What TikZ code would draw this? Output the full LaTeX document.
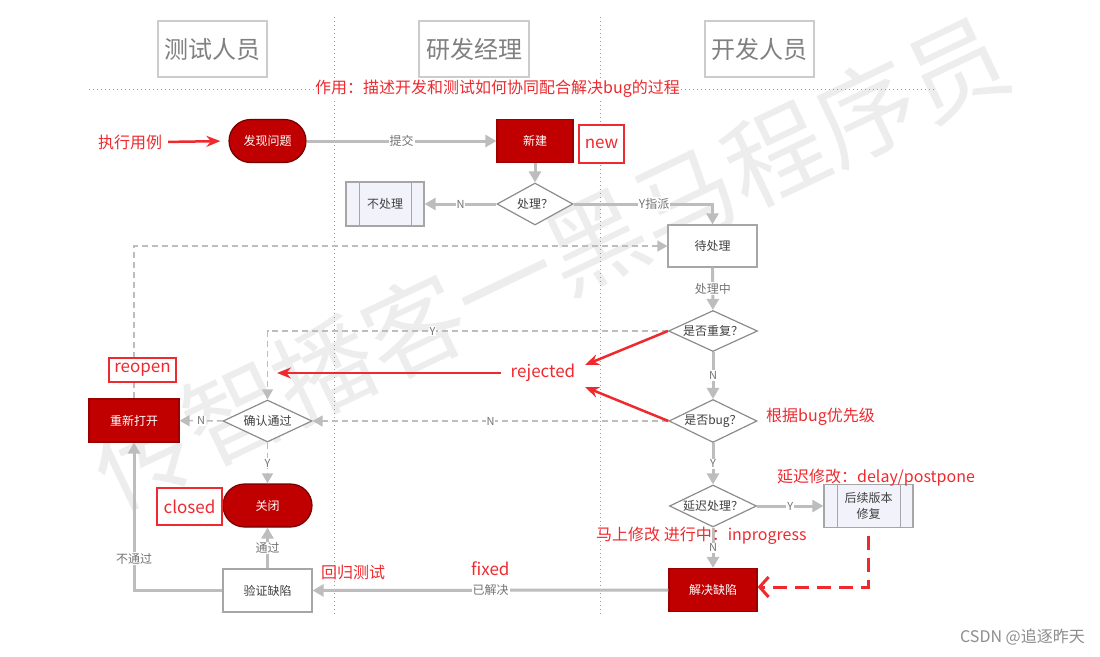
\documentclass[tikz,border=0pt]{standalone}
\usepackage{fontspec}
\setmainfont{Noto Sans CJK SC}
\usetikzlibrary{arrows.meta,shapes.geometric}
\definecolor{dred}{HTML}{C00000}
\definecolor{ared}{HTML}{EE2A2F}
\definecolor{lgray}{HTML}{BDBDBD}
\definecolor{subfill}{HTML}{F1F2FA}
\newcommand\myfs[1]{\fontsize{#1}{#1}\selectfont}
\begin{document}
\begin{tikzpicture}[x=1pt,y=-1pt,
  wm/.style={rotate=25.5, text=black!7, font=\myfs{100}, inner sep=0pt},
  lanehead/.style={draw=black!20, line width=1.5pt, fill=white, text=black!50, font=\myfs{24}, minimum width=110pt, minimum height=56pt, inner sep=0pt},
  box/.style={draw=black!35, line width=1.2pt, fill=white, text=black!75, font=\myfs{12}, minimum width=89pt, minimum height=43pt, inner sep=0pt},
  redbox/.style={box, fill=dred, draw=dred!80!black, text=white},
  term/.style={redbox, rounded corners=21.5pt, draw=dred!60!black},
  dec/.style={diamond, shape aspect=2.4, draw=black!45, line width=1.2pt, fill=white, text=black!75, font=\myfs{12}, inner sep=0pt, minimum width=89pt, minimum height=42pt},
  subp/.style={box, fill=subfill},
  conn/.style={draw=lgray, line width=3pt, -{Triangle[length=11pt,width=12pt]}},
  dconn/.style={draw=lgray, line width=1.5pt, dash pattern=on 6pt off 4pt, -{Triangle[length=10pt,width=11pt]}},
  lbl/.style={fill=white, inner sep=1pt, text=black!55, font=\myfs{12}},
  yn/.style={lbl, font=\myfs{11}},
  ann/.style={text=ared, font=\myfs{16}, inner sep=0pt},
  annlat/.style={text=ared, font=\myfs{17}, inner sep=0pt},
  annbox/.style={draw=ared, line width=1.5pt, fill=white, text=ared, font=\myfs{17}, inner sep=0pt},
  rarrow/.style={draw=ared, line width=2.5pt, -{Stealth[length=14pt,width=11pt]}},
  rdash/.style={draw=ared, line width=3pt, dash pattern=on 14pt off 8pt, -{Straight Barb[length=9pt,width=20pt]}},
  lane/.style={draw=black!40, line width=1pt, dash pattern=on 1pt off 3pt},
  boxline/.style={draw=black!35, line width=1.2pt}
]
\useasboundingbox (0,0) rectangle (1100,656);

% watermark
\node[wm] (wm) at (550,262) {传智播客一黑马程序员};

% lanes
\draw[lane] (334,17) -- (334,614);
\draw[lane] (600,17) -- (600,614);
\draw[lane] (89,89) -- (934,89);
\node[lanehead, minimum width=109pt] (h1) at (212.5,49) {测试人员};
\node[lanehead] (h2) at (474,49) {研发经理};
\node[lanehead, minimum width=109pt] (h3) at (759.5,49) {开发人员};
\node[ann, fill=white] (purpose) at (497.5,89) {作用：描述开发和测试如何协同配合解决bug的过程};

% nodes
\node[ann] (exec) at (130,142) {执行用例};
\node[term, minimum width=77pt] (find) at (267.5,141) {发现问题};
\node[redbox, minimum width=76pt] (xinjian) at (535,141) {新建};
\node[annbox, minimum width=45pt, minimum height=38pt] (newb) at (601.5,144) {new};
\node[dec, minimum width=76pt] (proc) at (535,204) {处理？};
\node[subp, minimum width=78pt, minimum height=44pt] (bucl) at (385,204) {不处理};
\node[box, minimum height=42pt] (daichuli) at (712.5,246) {待处理};
\node[dec, minimum height=41pt] (chongfu) at (713,331) {是否重复？};
\node[dec, minimum width=88pt, minimum height=43pt] (isbug) at (713,421) {是否bug？};
\node[dec, minimum width=87pt] (yanchi) at (713,506) {延迟处理？};
\node[subp, align=center, font=\fontsize{12}{16}\selectfont] (houxu) at (868.5,506) {后续版本\\修复};
\node[redbox, minimum width=88pt] (jiejue) at (713,590) {解决缺陷};
\node[box] (yanzheng) at (267.5,590.5) {验证缺陷};
\node[term, minimum width=89pt] (guanbi) at (267.5,505.5) {关闭};
\node[dec, minimum height=42pt] (queren) at (267.5,421) {确认通过};
\node[redbox, minimum width=90pt] (chongxin) at (134,420.5) {重新打开};

% sub-process inner lines
\draw[boxline] ([xshift=14pt]bucl.north west) -- ([xshift=14pt]bucl.south west);
\draw[boxline] ([xshift=-13pt]bucl.north east) -- ([xshift=-13pt]bucl.south east);
\draw[boxline] ([xshift=14pt]houxu.north west) -- ([xshift=14pt]houxu.south west);
\draw[boxline] ([xshift=-13pt]houxu.north east) -- ([xshift=-13pt]houxu.south east);

% solid connectors
\draw[conn] (find) -- node[lbl] {提交} (xinjian);
\draw[conn] (xinjian) -- (proc);
\draw[conn] (proc) -- node[yn] {N} (bucl);
\draw[conn] (proc.east) -| node[lbl, pos=0.29] {Y指派} (daichuli.north);
\draw[conn] (daichuli) -- node[lbl] {处理中} (chongfu);
\draw[conn] (chongfu) -- node[yn] {N} (isbug);
\draw[conn] (isbug) -- node[yn] {Y} (yanchi);
\draw[conn] (yanchi) -- node[yn] {Y} (houxu);
\draw[conn] (yanchi) -- node[yn] {N} (jiejue);
\draw[conn] (jiejue) -- node[lbl] {已解决} (yanzheng);
\draw[conn] (yanzheng) -- node[lbl] {通过} (guanbi);
\draw[conn] (yanzheng.west) -| node[lbl, pos=0.607] {不通过} (chongxin.south);

% dashed connectors
\draw[dconn] (chongxin.north) |- (daichuli.west);
\draw[dconn] (chongfu.west) -| node[yn, pos=0.294] {Y} (queren.north);
\draw[dconn] (isbug) -- node[yn] {N} (queren);
\draw[dconn] (queren) -- node[yn] {N} (chongxin);
\draw[dconn] (queren) -- node[yn] {Y} (guanbi);

% annotations
\node[annbox, minimum width=67pt, minimum height=24pt] (reopen) at (142.5,370) {reopen};
\node[annbox, minimum width=65pt, minimum height=37pt] (closed) at (189.5,506.5) {closed};
\node[annlat] (rejected) at (543,373) {rejected};
\node[ann, anchor=west] (prio) at (766,417) {根据bug优先级};
\node[ann, anchor=west] (delay) at (777,478) {延迟修改：delay/postpone};
\node[ann, anchor=west] (inprog) at (596,536) {马上修改 进行中：inprogress};
\node[ann, anchor=west] (regress) at (321,572) {回归测试};
\node[annlat, anchor=west] (fixed) at (471,569) {fixed};
\node[text=black!45, font=\myfs{16}, anchor=east, inner sep=0pt] (csdn) at (1085,637) {CSDN @追逐昨天};

\coordinate (rjend) at (277,373);
\coordinate (r1) at (585,365);
\coordinate (r2) at (585,387);
\draw[rarrow, shorten >=8pt, shorten <=6pt] (exec.east) -- (find.west);
\draw[rarrow, shorten <=10pt] (rejected.west) -- (rjend);
\draw[rarrow] (chongfu.west) -- (r1);
\draw[rarrow] (isbug.west) -- (r2);
\draw[rdash, shorten <=8pt] (houxu.south) |- ([yshift=3pt]jiejue.east);
\end{tikzpicture}
\end{document}
